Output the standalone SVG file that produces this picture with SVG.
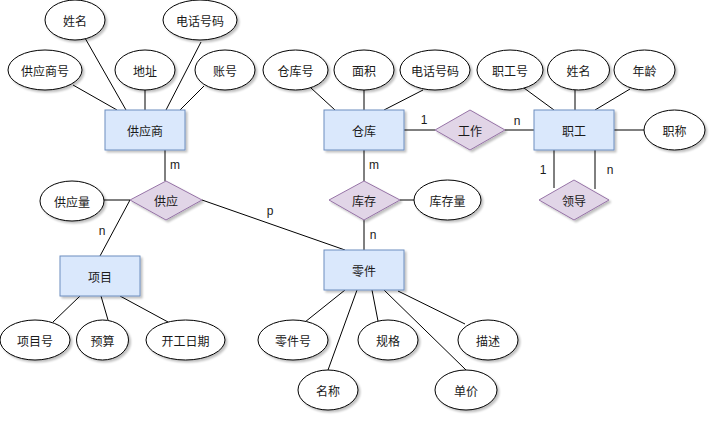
<svg xmlns="http://www.w3.org/2000/svg" width="716" height="422" viewBox="0 0 716 422">
<defs>
<filter id="sh" x="-20%" y="-20%" width="150%" height="160%">
<feGaussianBlur in="SourceAlpha" stdDeviation="1"/>
<feOffset dx="2" dy="2" result="b"/>
<feComponentTransfer><feFuncA type="linear" slope="0.25"/></feComponentTransfer>
<feMerge><feMergeNode/><feMergeNode in="SourceGraphic"/></feMerge>
</filter>
</defs>
<style>
.e{fill:#fff;stroke:#000;stroke-width:1;filter:url(#sh)}
.r{fill:#dae8fc;stroke:#6c8ebf;stroke-width:1;filter:url(#sh)}
.d{fill:#e1d5e7;stroke:#9673a6;stroke-width:1;filter:url(#sh)}
.l{stroke:#000;stroke-width:1;fill:none}
text{font-family:"Noto Sans CJK SC","Liberation Sans",sans-serif;font-size:12px;fill:#1a1a1a;text-anchor:middle;dominant-baseline:central}
.c{font-family:"Liberation Sans",Arial,sans-serif;text-anchor:middle}
</style>
<rect width="716" height="422" fill="#fff"/>
<g id="connectors">
<line class="l" x1="73" y1="85" x2="117" y2="110"/>
<line class="l" x1="85" y1="38" x2="126" y2="110"/>
<line class="l" x1="145" y1="90" x2="145" y2="110"/>
<line class="l" x1="201" y1="42" x2="166" y2="110"/>
<line class="l" x1="204" y1="86" x2="180" y2="110"/>
<line class="l" x1="165" y1="150" x2="165" y2="181"/>
<line class="l" x1="104" y1="200" x2="130" y2="200"/>
<line class="l" x1="130" y1="200" x2="100" y2="256"/>
<line class="l" x1="202" y1="200" x2="345" y2="250"/>
<line class="l" x1="80" y1="296" x2="53" y2="322"/>
<line class="l" x1="101" y1="296" x2="108" y2="320"/>
<line class="l" x1="120" y1="296" x2="168" y2="322"/>
<line class="l" x1="311" y1="88" x2="335" y2="110"/>
<line class="l" x1="364" y1="90" x2="364" y2="110"/>
<line class="l" x1="423" y1="90" x2="384" y2="110"/>
<line class="l" x1="364" y1="150" x2="364" y2="181"/>
<line class="l" x1="364" y1="220" x2="364" y2="250"/>
<line class="l" x1="400" y1="200" x2="414" y2="200"/>
<line class="l" x1="404" y1="130" x2="435" y2="130"/>
<line class="l" x1="505" y1="130" x2="534" y2="130"/>
<line class="l" x1="524" y1="88" x2="554" y2="110"/>
<line class="l" x1="575" y1="90" x2="575" y2="110"/>
<line class="l" x1="630" y1="89" x2="595" y2="110"/>
<line class="l" x1="614" y1="130" x2="644" y2="130"/>
<line class="l" x1="554" y1="150" x2="554" y2="188"/>
<line class="l" x1="595" y1="150" x2="595" y2="189"/>
<line class="l" x1="345" y1="290" x2="305" y2="322"/>
<line class="l" x1="357" y1="290" x2="328" y2="370"/>
<line class="l" x1="372" y1="290" x2="378" y2="321"/>
<line class="l" x1="384" y1="290" x2="466" y2="370"/>
<line class="l" x1="398" y1="291" x2="465" y2="324"/>
<text class="c" x="175" y="165">m</text>
<text class="c" x="102" y="231">n</text>
<text class="c" x="270" y="211">p</text>
<text class="c" x="374" y="165">m</text>
<text class="c" x="373" y="235">n</text>
<text class="c" x="424" y="120">1</text>
<text class="c" x="517" y="121">n</text>
<text class="c" x="543" y="170">1</text>
<text class="c" x="610" y="170">n</text>
</g>
<g id="n-supplier"><rect class="r" x="105" y="110" width="80" height="40"/><text x="145" y="130">供应商</text></g>
<g id="n-sname"><ellipse class="e" cx="75" cy="20" rx="30" ry="20"/><text x="75" y="20">姓名</text></g>
<g id="n-sphone"><ellipse class="e" cx="200" cy="20" rx="37" ry="20"/><text x="200" y="20">电话号码</text></g>
<g id="n-sno"><ellipse class="e" cx="45" cy="70" rx="37" ry="20"/><text x="45" y="70">供应商号</text></g>
<g id="n-saddr"><ellipse class="e" cx="145" cy="70" rx="30" ry="20"/><text x="145" y="70">地址</text></g>
<g id="n-sacct"><ellipse class="e" cx="225" cy="70" rx="30" ry="20"/><text x="225" y="70">账号</text></g>
<g id="n-supply"><polygon class="d" points="130,200 166,181 202,200 166,220"/><text x="166" y="200">供应</text></g>
<g id="n-qty"><ellipse class="e" cx="72" cy="201" rx="32" ry="20"/><text x="72" y="201">供应量</text></g>
<g id="n-project"><rect class="r" x="60" y="256" width="80" height="40"/><text x="100" y="276">项目</text></g>
<g id="n-pno"><ellipse class="e" cx="35" cy="340" rx="35" ry="20"/><text x="35" y="340">项目号</text></g>
<g id="n-budget"><ellipse class="e" cx="102.5" cy="340" rx="26" ry="20"/><text x="102.5" y="340">预算</text></g>
<g id="n-start"><ellipse class="e" cx="185.5" cy="340" rx="39.5" ry="20"/><text x="185.5" y="340">开工日期</text></g>
<g id="n-warehouse"><rect class="r" x="324" y="110" width="80" height="40"/><text x="364" y="130">仓库</text></g>
<g id="n-wno"><ellipse class="e" cx="295.5" cy="70" rx="32.5" ry="20"/><text x="295.5" y="70">仓库号</text></g>
<g id="n-area"><ellipse class="e" cx="364" cy="70" rx="30" ry="20"/><text x="364" y="70">面积</text></g>
<g id="n-wphone"><ellipse class="e" cx="435" cy="70" rx="35" ry="20"/><text x="435" y="70">电话号码</text></g>
<g id="n-stock"><polygon class="d" points="329,200 364,181 400,200 364,220"/><text x="364" y="200">库存</text></g>
<g id="n-stockqty"><ellipse class="e" cx="447.5" cy="200" rx="33.5" ry="20"/><text x="447.5" y="200">库存量</text></g>
<g id="n-work"><polygon class="d" points="435,130 470,110 505,130 470,150"/><text x="470" y="130">工作</text></g>
<g id="n-employee"><rect class="r" x="534" y="110" width="80" height="40"/><text x="574" y="130">职工</text></g>
<g id="n-eno"><ellipse class="e" cx="510" cy="70" rx="33" ry="20"/><text x="510" y="70">职工号</text></g>
<g id="n-ename"><ellipse class="e" cx="578.5" cy="70" rx="31" ry="20"/><text x="578.5" y="70">姓名</text></g>
<g id="n-age"><ellipse class="e" cx="644.5" cy="70" rx="30.5" ry="20"/><text x="644.5" y="70">年龄</text></g>
<g id="n-title"><ellipse class="e" cx="674.5" cy="130" rx="30.5" ry="20"/><text x="674.5" y="130">职称</text></g>
<g id="n-lead"><polygon class="d" points="539,200 574,180 609,200 574,220"/><text x="574" y="200">领导</text></g>
<g id="n-part"><rect class="r" x="324" y="250" width="80" height="40"/><text x="364" y="270">零件</text></g>
<g id="n-partno"><ellipse class="e" cx="293" cy="340" rx="35" ry="20"/><text x="293" y="340">零件号</text></g>
<g id="n-spec"><ellipse class="e" cx="388" cy="340" rx="30" ry="20"/><text x="388" y="340">规格</text></g>
<g id="n-desc"><ellipse class="e" cx="488" cy="340" rx="30" ry="20"/><text x="488" y="340">描述</text></g>
<g id="n-pname"><ellipse class="e" cx="328" cy="390" rx="30" ry="20"/><text x="328" y="390">名称</text></g>
<g id="n-price"><ellipse class="e" cx="466" cy="390" rx="31" ry="20"/><text x="466" y="390">单价</text></g>
</svg>
